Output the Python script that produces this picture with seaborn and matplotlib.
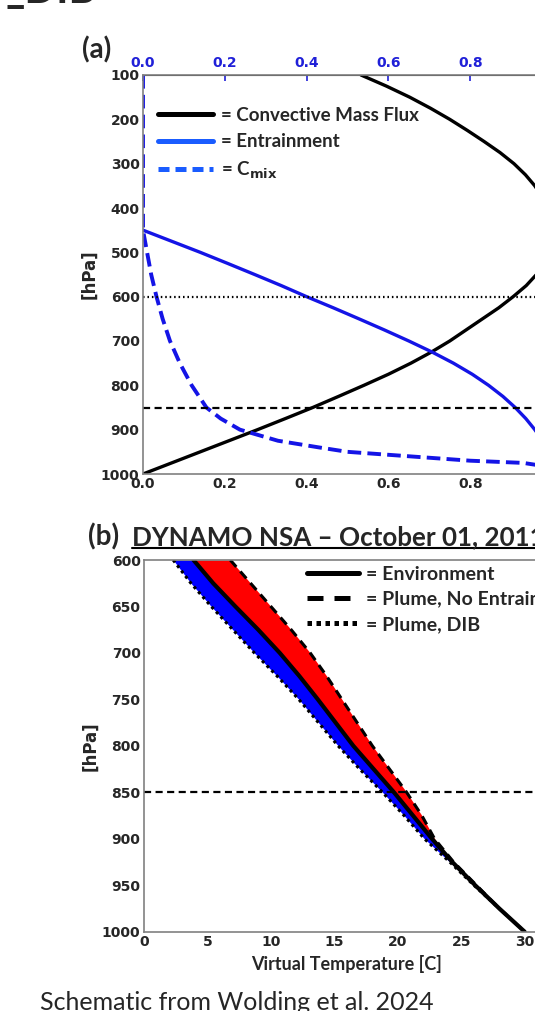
import matplotlib
matplotlib.use("Agg")
import matplotlib.pyplot as plt
from matplotlib.lines import Line2D
import seaborn as sns

# ---- panel (a): convective profiles ----
PRES_A = [100, 125, 150, 175, 200, 225, 250, 275, 300, 325, 350, 375, 400, 450, 500,
          550, 575, 600, 625, 650, 675, 700, 725, 750, 775, 800, 825, 850, 875, 900,
          925, 950, 975, 1000]
MASS_FLUX = [0.533, 0.595, 0.652, 0.703, 0.75, 0.793, 0.834, 0.873, 0.907, 0.935, 0.958,
             0.975, 0.987, 1.0, 0.995, 0.962, 0.937, 0.905, 0.87, 0.83, 0.79, 0.75, 0.705,
             0.655, 0.6, 0.54, 0.478, 0.415, 0.348, 0.28, 0.21, 0.14, 0.07, 0.0]

ENTR_PRES = [450, 475, 500, 525, 550, 575, 600, 625, 650, 675, 700, 725, 750, 775, 800,
             825, 850, 875, 900, 925, 950, 1000]
ENTRAINMENT = [0.0, 0.07, 0.14, 0.207, 0.273, 0.338, 0.40, 0.465, 0.528, 0.59, 0.65,
               0.707, 0.759, 0.805, 0.845, 0.88, 0.91, 0.936, 0.958, 0.976, 0.99, 1.0]

CMIX_PRES = [100, 450, 500, 550, 600, 650, 700, 750, 800, 850, 875, 900, 925, 940, 950,
             960, 970, 975, 985, 1000]
CMIX = [0.0, 0.0, 0.01, 0.02, 0.033, 0.048, 0.066, 0.09, 0.119, 0.155, 0.19, 0.237,
        0.33, 0.43, 0.50, 0.65, 0.80, 0.93, 1.0, 1.0]

A_LEVELS = [600, 850]
A_XTICKS = [0.0, 0.2, 0.4, 0.6, 0.8, 1.0]
A_YTICKS = [100, 200, 300, 400, 500, 600, 700, 800, 900, 1000]

# ---- panel (b): virtual temperature profiles ----
PRES_B = [600, 625, 650, 675, 700, 725, 750, 775, 800, 825, 850, 875, 900, 925, 950, 975, 1000]
TV_ENV = [3.9, 5.45, 7.2, 9.0, 10.7, 12.25, 13.7, 15.1, 16.5, 18.1, 19.7, 21.2, 22.7, 24.3, 26.1, 28.0, 30.0]
TV_NOENT = [6.8, 8.4, 10.0, 11.6, 13.1, 14.4, 15.6, 16.8, 18.0, 19.35, 20.7, 21.9, 22.9, 24.4, 26.2, 28.0, 30.0]
TV_DIB = [2.3, 3.7, 5.3, 7.0, 8.7, 10.5, 12.2, 13.75, 15.3, 17.0, 18.8, 20.5, 22.1, 24.1, 26.0, 28.0, 30.0]

B_XTICKS = [0, 5, 10, 15, 20, 25, 30]
B_YTICKS = [600, 650, 700, 750, 800, 850, 900, 950, 1000]

BLUE = "#1414e6"
LEGEND_BLUE = "#1a5cff"
TICK_BLUE = "#2020d8"
SPINE = "#808080"
TEXT_FONT = ["Lato", "DejaVu Sans"]

sns.set_style("white")
plt.rcParams["font.family"] = ["DejaVu Sans"]
plt.rcParams["font.weight"] = "bold"

W, H = 535, 1011
fig = plt.figure(figsize=(W / 100, H / 100), dpi=100)


def px_axes(left, top, right, bottom):
    return fig.add_axes([left / W, 1 - bottom / H, (right - left) / W, (bottom - top) / H])


def style_axes(ax):
    for s in ax.spines.values():
        s.set_color(SPINE)
        s.set_linewidth(1.2)
    ax.tick_params(direction="in", length=4, width=1.2, color=SPINE,
                   labelsize=10, pad=2.5)
    for lab in ax.get_xticklabels() + ax.get_yticklabels():
        lab.set_fontweight("bold")


# ---------------- panel (a) ----------------
ax1 = px_axes(143, 75, 552, 474)
sns.lineplot(x=MASS_FLUX, y=PRES_A, orient="y", color="black", lw=2.4, ax=ax1)
sns.lineplot(x=ENTRAINMENT, y=ENTR_PRES, orient="y", color=BLUE, lw=2.4, ax=ax1)
sns.lineplot(x=CMIX, y=CMIX_PRES, orient="y", color=BLUE, lw=2.8,
             linestyle=(0, (3.5, 1.6)), ax=ax1)
ax1.axhline(A_LEVELS[0], color="black", lw=1.6, linestyle=(0, (0.7, 1.3)))
ax1.axhline(A_LEVELS[1], color="black", lw=1.6, linestyle=(0, (3.2, 2)))
ax1.set_xlim(0, 1.0)
ax1.set_ylim(1000, 100)
ax1.set_xticks(A_XTICKS)
ax1.set_xticklabels([f"{v:.1f}" for v in A_XTICKS])
ax1.set_yticks(A_YTICKS)
ax1.set_ylabel("[hPa]", fontsize=12, fontweight="bold", labelpad=1.5)
style_axes(ax1)

top = ax1.secondary_xaxis("top")
top.set_xticks(A_XTICKS)
top.set_xticklabels([f"{v:.1f}" for v in A_XTICKS])
top.tick_params(direction="in", length=4, width=1.2, color=TICK_BLUE,
                labelcolor=TICK_BLUE, labelsize=10, pad=3.5)
for lab in top.get_xticklabels():
    lab.set_fontweight("bold")

handles_a = [
    Line2D([], [], color="black", lw=3.6),
    Line2D([], [], color=LEGEND_BLUE, lw=3.6),
    Line2D([], [], color=LEGEND_BLUE, lw=3.6, linestyle=(0, (2.2, 1.2))),
]
labels_a = ["= Convective Mass Flux", "= Entrainment", "= C$_{\\mathbf{mix}}$"]
ax1.legend(handles_a, labels_a, loc="upper left", bbox_to_anchor=(0.037, 0.92),
           frameon=False, handlelength=2.9, handletextpad=0.43, labelspacing=0.5,
           borderpad=0, borderaxespad=0,
           prop={"family": TEXT_FONT, "weight": "bold", "size": 13.5})

# ---------------- panel (b) ----------------
ax2 = px_axes(144, 560, 550, 931.7)
ax2.fill_betweenx(PRES_B, TV_ENV, TV_NOENT, color="#ff0000", lw=0)
ax2.fill_betweenx(PRES_B, TV_DIB, TV_ENV, color="#0000ff", lw=0)
sns.lineplot(x=TV_DIB, y=PRES_B, orient="y", color="black", lw=2.2,
             linestyle=(0, (1, 1.2)), ax=ax2)
sns.lineplot(x=TV_NOENT, y=PRES_B, orient="y", color="black", lw=2.2,
             linestyle=(0, (3, 2)), ax=ax2)
sns.lineplot(x=TV_ENV, y=PRES_B, orient="y", color="black", lw=3.0, ax=ax2)
ax2.axhline(850, color="black", lw=1.6, linestyle=(0, (3.2, 2)))
ax2.set_xlim(0, 32)
ax2.set_ylim(1000, 600)
ax2.set_xticks(B_XTICKS)
ax2.set_yticks(B_YTICKS)
ax2.set_ylabel("[hPa]", fontsize=12, fontweight="bold", labelpad=1.5)
ax2.set_xlabel("Virtual Temperature [C]", family=TEXT_FONT, fontsize=13,
               fontweight="bold")
ax2.xaxis.set_label_coords(0.5, -0.064)
style_axes(ax2)

handles_b = [
    Line2D([], [], color="black", lw=3.6),
    Line2D([], [], color="black", lw=3.6, linestyle=(0, (3.2, 2.2))),
    Line2D([], [], color="black", lw=3.6, linestyle=(0, (0.9, 0.9))),
]
labels_b = ["= Environment", "= Plume, No Entrainment", "= Plume, DIB"]
ax2.legend(handles_b, labels_b, loc="upper left", bbox_to_anchor=(0.4007, 0.985),
           frameon=False, handlelength=2.68, handletextpad=0.36, labelspacing=0.42,
           borderpad=0, borderaxespad=0,
           prop={"family": TEXT_FONT, "weight": "bold", "size": 14})

# ---------------- annotations ----------------
fig.text(82 / W, 1 - 50 / H, "(a)", family=TEXT_FONT, fontsize=20,
         fontweight="bold", va="center", ha="left")
fig.text(88 / W, 1 - 545 / H, "(b)", family=TEXT_FONT, fontsize=20,
         fontweight="bold", va="baseline", ha="left")
title = fig.text(131.7 / W, 1 - 545 / H, "DYNAMO NSA \u2013 October 01, 2011",
                 family=TEXT_FONT, fontsize=18.7, fontweight="bold",
                 va="baseline", ha="left")
fig.text(40 / W, 1 - 1010 / H, "Schematic from Wolding et al. 2024",
         family=TEXT_FONT, fontsize=18, fontweight="normal", va="baseline", ha="left")
fig.text(6 / W, 1 - 3 / H, "_DIB", family=TEXT_FONT, fontsize=30,
         fontweight="bold", va="baseline", ha="left")

# underline under the panel (b) title
renderer = fig.canvas.get_renderer()
bb = title.get_window_extent(renderer)
fig.add_artist(Line2D([bb.x0 / W, bb.x1 / W], [1 - 548 / H, 1 - 548 / H],
                      color="black", lw=1.5, transform=fig.transFigure))

fig.savefig("out.png", dpi=100)
